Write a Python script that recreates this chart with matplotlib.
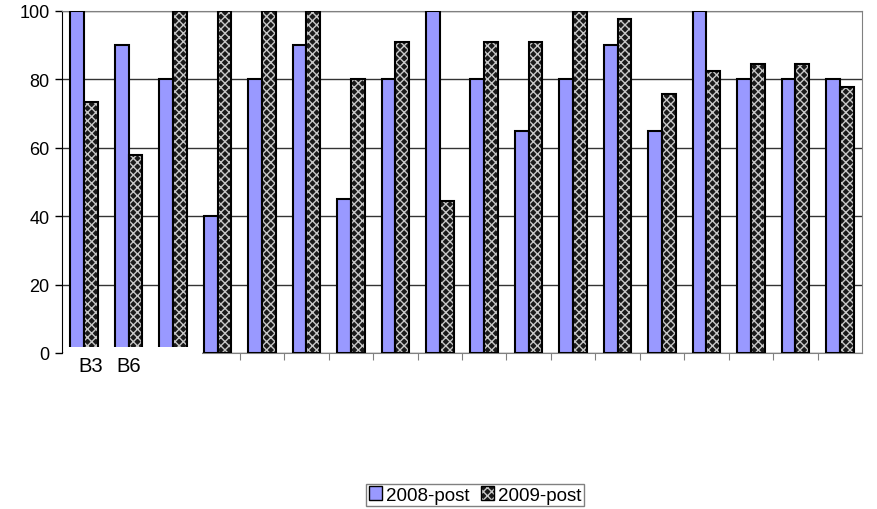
import numpy as np
import matplotlib.pyplot as plt
from matplotlib.patches import Rectangle

plt.rcParams['font.family'] = ['Liberation Sans', 'DejaVu Sans']

groups = list(range(18))
post_2008 = [100, 90, 80, 40, 80, 90, 45, 80, 100, 80, 65, 80, 90, 65, 100, 80, 80, 80]
post_2009 = [73.5, 58, 100, 100, 100, 100, 80, 91, 44.5, 91, 91, 100, 97.8, 75.8, 82.4, 84.6, 84.6, 77.9]
tick_names = ["B3", "B6"]

W, H = 877, 510
fig = plt.figure(figsize=(W / 100, H / 100), dpi=100)
ax = fig.add_axes([62 / W, (H - 354) / H, 800 / W, 342 / H])

x = np.arange(len(groups))
bw = 0.31
blue = "#9999FF"

ax.bar(x - bw / 2, post_2008, bw, color=blue, edgecolor="black", linewidth=1.5, zorder=3)
# hatched bars: dark fill with light cross pattern, then black outline
ax.bar(x + bw / 2, post_2009, bw, color="#1a1a1a", edgecolor="#c8c8c8",
       hatch="xxxx", linewidth=0, zorder=3)
ax.bar(x + bw / 2, post_2009, bw, fill=False, edgecolor="black", linewidth=1.5, zorder=4)

ax.set_xlim(-0.5, 17.5)
ax.set_ylim(0, 100)
ax.set_yticks([0, 20, 40, 60, 80, 100])
ax.tick_params(axis="y", labelsize=13, length=5, direction="out", width=1, pad=4)
ax.yaxis.grid(True, color="#333333", linewidth=1, zorder=1)

ax.set_xticks(np.arange(3.5, 17.5, 1))
ax.set_xticklabels([])
ax.tick_params(axis="x", length=5, direction="out", color="#808080")

for s in ["top", "right"]:
    ax.spines[s].set_color("#808080")
ax.spines["left"].set_color("black")
ax.spines["bottom"].set_color("#808080")
ax.spines["bottom"].set_bounds(2.65, 17.5)

# white label box covering the start of the axis
box = Rectangle((64 / W, (H - 378) / H), 138 / W, 30 / H, transform=fig.transFigure,
                facecolor="white", edgecolor="none", zorder=10)
fig.add_artist(box)
fig.text(91 / W, 1 - 366 / H, tick_names[0], fontsize=14.5, ha="center", va="center", zorder=11)
fig.text(129 / W, 1 - 366 / H, tick_names[1], fontsize=14.5, ha="center", va="center", zorder=11)

h1 = Rectangle((0, 0), 1, 1, facecolor=blue, edgecolor="black", linewidth=1)
h2 = Rectangle((0, 0), 1, 1, facecolor="#1a1a1a", edgecolor="#c8c8c8", hatch="xxxx", linewidth=0)
h2b = Rectangle((0, 0), 1, 1, fill=False, edgecolor="black", linewidth=1)
leg = fig.legend([h1, (h2, h2b)], ["2008-post", "2009-post"], loc="center", ncol=2,
                 bbox_to_anchor=(475 / W, 1 - 496 / H), fontsize=13.5, frameon=True,
                 fancybox=False, edgecolor="#606060", handlelength=0.7, handleheight=0.7,
                 handletextpad=0.2, columnspacing=0.6, borderpad=0.15, borderaxespad=0)
leg.get_frame().set_linewidth(1)

fig.savefig("out.png", dpi=100)
